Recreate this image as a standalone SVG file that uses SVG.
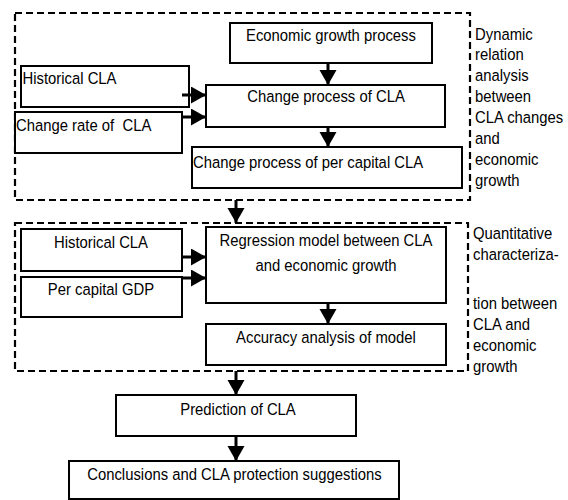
<svg xmlns="http://www.w3.org/2000/svg" width="568" height="500" viewBox="0 0 568 500">
<defs>
<marker id="ah" markerUnits="userSpaceOnUse" markerWidth="17" markerHeight="18" refX="15" refY="8.5" orient="auto">
<path d="M0,0 L15,8.5 L0,17 Z" fill="#000"/>
</marker>
<style>
.box{fill:#fff;stroke:#000;stroke-width:2}
.grp{fill:none;stroke:#000;stroke-width:2.2;stroke-dasharray:7 4}
.t{font-family:"Liberation Sans",Arial,sans-serif;font-size:16.5px;fill:#000}
.c{text-anchor:middle}
.a{fill:none;stroke:#000;stroke-width:3;marker-end:url(#ah)}
</style>
</defs>
<rect width="568" height="500" fill="#fff"/>
<g id="group1">
<rect class="grp" x="15" y="13" width="455" height="187"/>
<text class="t" transform="translate(475,40) scale(0.9,1)">Dynamic</text>
<text class="t" transform="translate(475,60) scale(0.9,1)">relation</text>
<text class="t" transform="translate(475,81) scale(0.9,1)">analysis</text>
<text class="t" transform="translate(475,102) scale(0.9,1)">between</text>
<text class="t" transform="translate(475,123) scale(0.9,1)">CLA changes</text>
<text class="t" transform="translate(475,144) scale(0.9,1)">and</text>
<text class="t" transform="translate(475,165) scale(0.9,1)">economic</text>
<text class="t" transform="translate(475,186) scale(0.9,1)">growth</text>
</g>
<g id="group2">
<rect class="grp" x="15" y="223" width="453" height="148"/>
<text class="t" transform="translate(473,239) scale(0.9,1)">Quantitative</text>
<text class="t" transform="translate(473,260) scale(0.9,1)">characteriza-</text>
<text class="t" transform="translate(473,309) scale(0.9,1)">tion between</text>
<text class="t" transform="translate(473,330) scale(0.9,1)">CLA and</text>
<text class="t" transform="translate(473,351) scale(0.9,1)">economic</text>
<text class="t" transform="translate(473,372) scale(0.9,1)">growth</text>
</g>
<g id="econ">
<rect class="box" x="230" y="23" width="202" height="40"/>
<text class="t c" transform="translate(331,41) scale(0.9,1)">Economic growth process</text>
</g>
<g id="hist1">
<rect class="box" x="21" y="66" width="168" height="41"/>
<text class="t" transform="translate(22.5,84) scale(0.9,1)">Historical CLA</text>
</g>
<g id="rate">
<rect class="box" x="15" y="112" width="167" height="41"/>
<text class="t" transform="translate(16,131) scale(0.9,1)" xml:space="preserve">Change rate of  CLA</text>
</g>
<g id="change">
<rect class="box" x="206" y="85" width="239" height="42"/>
<text class="t c" transform="translate(326,102) scale(0.9,1)">Change process of CLA</text>
</g>
<g id="percap">
<rect class="box" x="192" y="147" width="270" height="41"/>
<text class="t" transform="translate(193,168) scale(0.9,1)">Change process of per capital CLA</text>
</g>
<g id="hist2">
<rect class="box" x="21" y="229" width="161" height="42"/>
<text class="t c" transform="translate(101,248) scale(0.9,1)">Historical CLA</text>
</g>
<g id="gdp">
<rect class="box" x="21" y="277" width="161" height="40"/>
<text class="t c" transform="translate(101,295) scale(0.9,1)">Per capital GDP</text>
</g>
<g id="regr">
<rect class="box" x="206" y="227" width="240" height="76"/>
<text class="t c" transform="translate(326,246) scale(0.9,1)">Regression model between CLA</text>
<text class="t c" transform="translate(326,271) scale(0.9,1)">and economic growth</text>
</g>
<g id="acc">
<rect class="box" x="206" y="324" width="240" height="41"/>
<text class="t c" transform="translate(326,343) scale(0.9,1)">Accuracy analysis of model</text>
</g>
<g id="pred">
<rect class="box" x="116" y="395" width="240" height="41"/>
<text class="t c" transform="translate(238,415) scale(0.9,1)">Prediction of CLA</text>
</g>
<g id="concl">
<rect class="box" x="69" y="461" width="330" height="38"/>
<text class="t c" transform="translate(234.5,480) scale(0.9,1)">Conclusions and CLA protection suggestions</text>
</g>
<g id="connectors">
<path class="a" d="M328,63 V85"/>
<path class="a" d="M328,127 V147"/>
<path class="a" d="M182,95 H206"/>
<path class="a" d="M182,117 H206"/>
<path class="a" d="M236,200 V223"/>
<path class="a" d="M182,257 H206"/>
<path class="a" d="M182,278 H206"/>
<path class="a" d="M328,303 V324"/>
<path class="a" d="M236,371 V395"/>
<path class="a" d="M236,436 V461"/>
</g>
</svg>
